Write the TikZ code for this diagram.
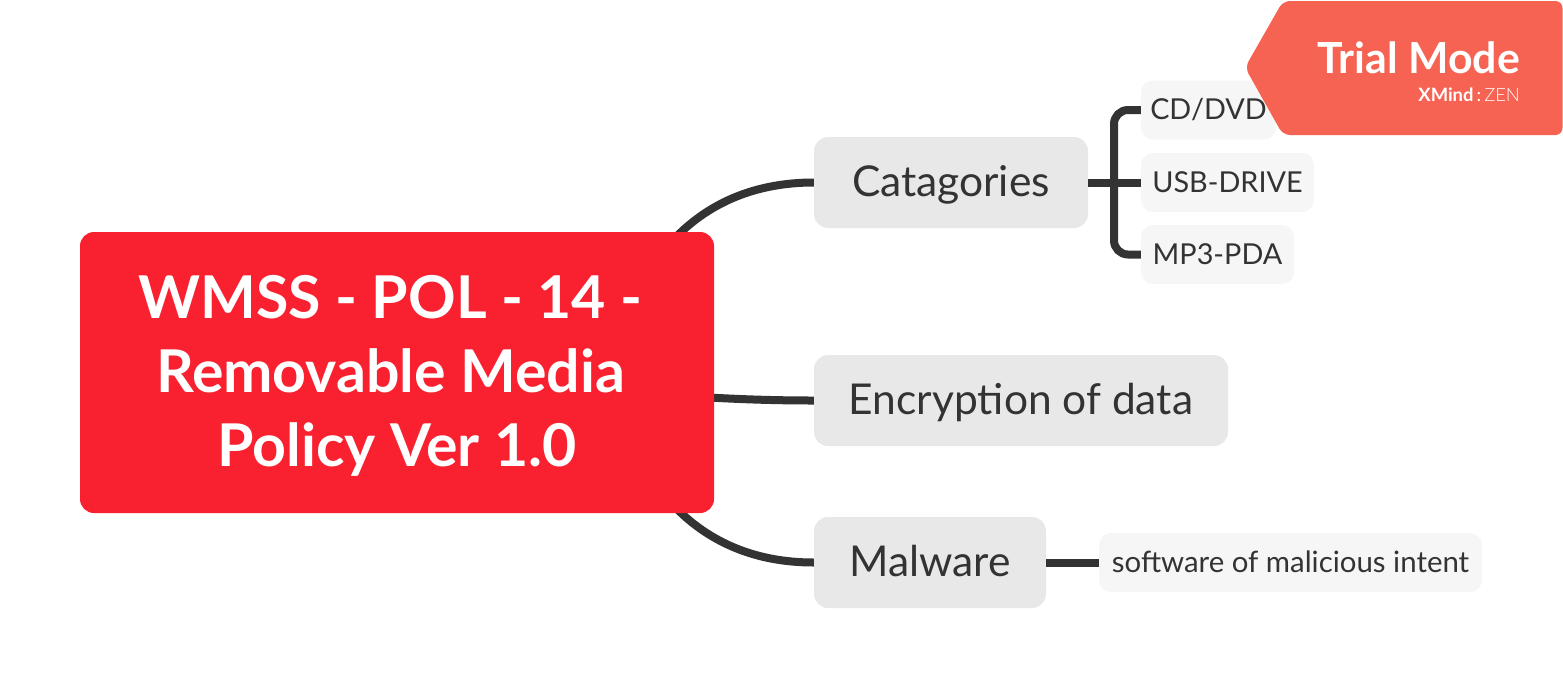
\documentclass[tikz,border=0pt]{standalone}
\usepackage{fontspec}
\setmainfont{Lato}
\newfontfamily\zenfont{Lato Light}
\usetikzlibrary{calc}
\definecolor{rootred}{HTML}{F9212F}
\definecolor{trialred}{HTML}{F66352}
\definecolor{linegray}{HTML}{333333}
\definecolor{topicgray}{HTML}{E8E8E8}
\definecolor{leafgray}{HTML}{F6F6F6}
\tikzset{
  every root/.style={fill=rootred, text=white, rounded corners=14pt, align=center, inner sep=0pt,
    text height=207pt, text depth=20pt, font=\fontsize{59}{74}\selectfont\bfseries},
  every topic/.style={fill=topicgray, text=linegray, rounded corners=14pt, inner sep=0pt,
    text height=40pt, text depth=13pt, minimum height=91pt, font=\fontsize{42.5}{48}\selectfont},
  every leaf/.style={fill=leafgray, text=linegray, rounded corners=12pt, inner sep=0pt,
    text height=30pt, text depth=11pt, minimum height=59pt, font=\fontsize{28.8}{36}\selectfont},
  every link/.style={draw=linegray, line width=8pt},
}
\begin{document}
\begin{tikzpicture}[x=1pt, y=-1pt]
    \useasboundingbox (0,0) rectangle (1563,689);

    % ================================================================================================
    % topics
    % ================================================================================================
    \node [every topic, minimum width=274pt] (catagories) at (951,182.5) {Catagories};
    \node [every topic, minimum width=414pt] (encryption) at (1021,400.5) {Encryption of data};
    \node [every topic, minimum width=232pt] (malware) at (930,562.5) {Malware};

    \node [every leaf, minimum width=135pt] (cd) at (1208.5,110) {CD/DVD};
    \node [every leaf, minimum width=173pt] (usb) at (1227.5,182.5) {USB-DRIVE};
    \node [every leaf, minimum width=153pt] (mp3) at (1217.5,254.5) {MP3-PDA};
    \node [every leaf, minimum width=383pt, font=\fontsize{29.4}{36}\selectfont] (software) at (1290.5,562.5) {software of malicious intent};

    % ================================================================================================
    % links
    % ================================================================================================
    \coordinate (fork) at (1114,182.5);
    \draw [every link, rounded corners=14pt] (cd.west) -| (fork) |- (mp3.west);
    \draw [every link] (catagories.east) -- (usb.west);
    \draw [every link] (malware.east) -- (software.west);

    % the root comes last so that it covers the ends of its links
    \coordinate (root-top) at (677,236);
    \coordinate (root-mid) at (700,397);
    \coordinate (root-low) at (677,509);
    \draw [every link] (root-top) .. controls (710,203) and (755,182.5) .. (catagories.west);
    \draw [every link] (root-mid) .. controls (735,399) and (770,400.5) .. (encryption.west);
    \draw [every link] (root-low) .. controls (710,542) and (755,562.5) .. (malware.west);

    \node [every root, minimum width=634pt, minimum height=281pt] (root) at (397,372.5)
      {WMSS - POL - 14 -\hspace*{13pt}\mbox{}\\Removable Media\hspace*{13pt}\mbox{}\\Policy Ver 1.0};

    % ================================================================================================
    % trial badge
    % ================================================================================================
    \coordinate (badge-tip) at (1245,67.5);
    \fill [trialred, rounded corners=7pt] (badge-tip) -- (1283,1) -- (1562.5,1) -- (1562.5,135) -- (1283,135) -- cycle;
    \node [anchor=base east, text=white, inner sep=0pt, font=\fontsize{42.8}{50}\selectfont\bfseries] (trial) at (1520,73) {Trial Mode};
    \node [anchor=base east, text=white, inner sep=0pt, font=\fontsize{18.4}{20}\selectfont] (xmind) at (1520,101) {\textbf{XMind}\,:\,{\zenfont ZEN}};

\end{tikzpicture}
\end{document}
